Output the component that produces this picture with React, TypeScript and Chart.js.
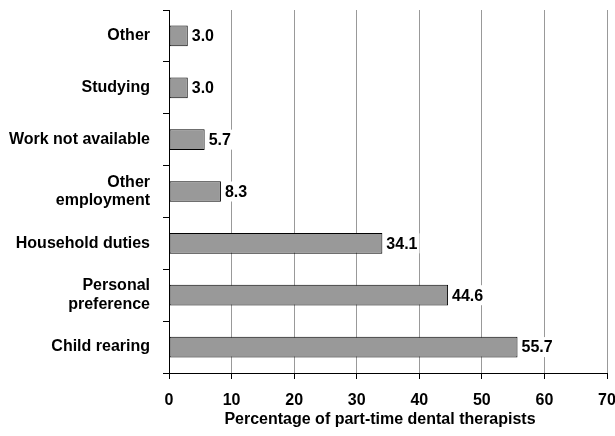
import React, { useEffect, useRef } from 'react';
import { Chart, registerables } from 'chart.js';

Chart.register(...registerables);

const categories: (string | string[])[] = [
  'Other',
  'Studying',
  'Work not available',
  ['Other', 'employment'],
  'Household duties',
  ['Personal', 'preference'],
  'Child rearing',
];
const values = [3.0, 3.0, 5.7, 8.3, 34.1, 44.6, 55.7];
const xMin = 0;
const xMax = 70;
const xStep = 10;
const axisTitle = 'Percentage of part-time dental therapists';

const FONT = '"Liberation Sans", Arial, Helvetica, sans-serif';

const valueLabels = {
  id: 'valueLabels',
  afterDatasetsDraw(chart: any) {
    const ctx = chart.ctx;
    const meta = chart.getDatasetMeta(0);
    ctx.save();
    ctx.font = `bold 16px ${FONT}`;
    ctx.textBaseline = 'middle';
    ctx.textAlign = 'left';
    meta.data.forEach((bar: any, i: number) => {
      const text = values[i].toFixed(1);
      const x = bar.x + 4;
      const y = bar.y;
      const w = ctx.measureText(text).width;
      ctx.fillStyle = '#ffffff';
      ctx.fillRect(x - 2, y - 10, w + 4, 20);
      ctx.fillStyle = '#000000';
      ctx.fillText(text, x, y + 1);
    });
    ctx.restore();
  },
};

const axisTitlePlugin = {
  id: 'axisTitlePlugin',
  afterDraw(chart: any) {
    const ctx = chart.ctx;
    const { left, right } = chart.chartArea;
    ctx.save();
    ctx.font = `bold 16px ${FONT}`;
    ctx.textAlign = 'center';
    ctx.textBaseline = 'middle';
    ctx.fillStyle = '#000';
    ctx.fillText(axisTitle, (left + right) / 2 - 8, chart.height - 16);
    ctx.restore();
  },
};

export default function App() {
  const ref = useRef<HTMLCanvasElement>(null);
  useEffect(() => {
    document.body.style.margin = '0';
    const canvas = ref.current!;
    const chart = new Chart(canvas, {
      type: 'bar',
      data: {
        labels: categories,
        datasets: [
          {
            data: values,
            backgroundColor: '#999999',
            borderColor: '#000000',
            borderWidth: 1,
            borderSkipped: false,
            barPercentage: 0.4,
            categoryPercentage: 1,
          },
        ],
      },
      options: {
        indexAxis: 'y',
        animation: false,
        responsive: false,
        layout: { padding: { top: 10, right: 8, bottom: 0, left: 0 } },
        plugins: {
          legend: { display: false },
          tooltip: { enabled: false },
          title: { display: false },
        },
        scales: {
          x: {
            min: xMin,
            max: xMax,
            ticks: {
              stepSize: xStep,
              color: '#000',
              padding: 12,
              font: { family: FONT, size: 16, weight: 'bold' },
            },
            grid: {
              color: (c: any) => (c.index === 0 ? 'rgba(0,0,0,0)' : '#999999'),
              tickColor: '#000',
              tickLength: 6,
              lineWidth: 1,
            },
            border: { display: true, color: '#000', width: 1 },
            title: { display: false },
            afterFit: (scale: any) => {
              scale.height = 63;
              scale.paddingLeft = 0;
              scale.paddingRight = 0;
            },
          },
          y: {
            ticks: {
              color: '#000',
              padding: 13,
              font: { family: FONT, size: 16, weight: 'bold', lineHeight: 1.15 },
            },
            grid: {
              offset: true,
              drawOnChartArea: false,
              tickColor: '#000',
              tickLength: 6,
            },
            border: { display: true, color: '#000', width: 1 },
            afterFit: (scale: any) => {
              scale.width = 169;
              scale.paddingTop = 0;
              scale.paddingBottom = 0;
            },
          },
        },
      },
      plugins: [valueLabels, axisTitlePlugin],
    } as any);
    return () => chart.destroy();
  }, []);
  return (
    <div style={{ width: 615, height: 436 }}>
      <canvas ref={ref} width={615} height={436} style={{ display: 'block' }} />
    </div>
  );
}
